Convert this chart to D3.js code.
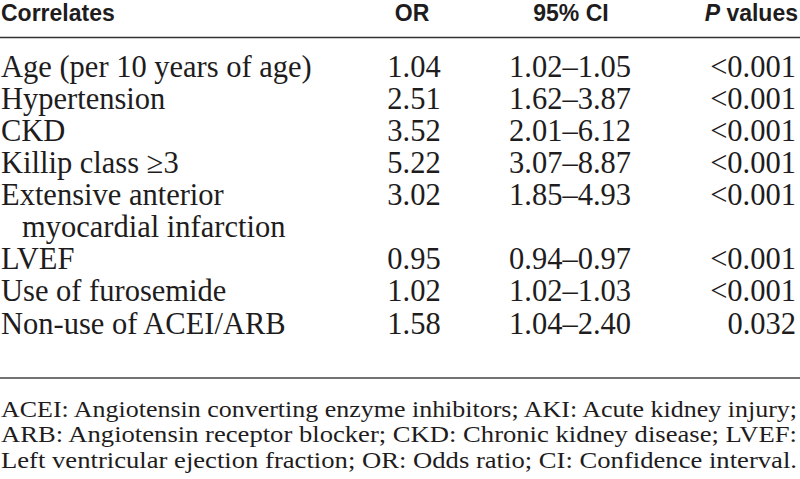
<!DOCTYPE html>
<html>
<head>
<meta charset="utf-8">
<script src="https://cdn.jsdelivr.net/npm/d3@7"></script>
<style>
  html, body { margin: 0; padding: 0; background: #ffffff; }
  svg { display: block; }
</style>
</head>
<body>
<svg id="chart" width="800" height="479"></svg>
<script>
// ---- Data ----
const headers = ["Correlates", "OR", "95% CI", "P values"];
const correlates = [
  ["Age (per 10 years of age)"],
  ["Hypertension"],
  ["CKD"],
  ["Killip class \u22653"],
  ["Extensive anterior", "myocardial infarction"],
  ["LVEF"],
  ["Use of furosemide"],
  ["Non-use of ACEI/ARB"]
];
const oddsRatios = [1.04, 2.51, 3.52, 5.22, 3.02, 0.95, 1.02, 1.58];
const ciLower = [1.02, 1.62, 2.01, 3.07, 1.85, 0.94, 1.02, 1.04];
const ciUpper = [1.05, 3.87, 6.12, 8.87, 4.93, 0.97, 1.03, 2.40];
const pValues = ["<0.001", "<0.001", "<0.001", "<0.001", "<0.001", "<0.001", "<0.001", "0.032"];
const footnotes = [
  "ACEI: Angiotensin converting enzyme inhibitors; AKI: Acute kidney injury;",
  "ARB: Angiotensin receptor blocker; CKD: Chronic kidney disease; LVEF:",
  "Left ventricular ejection fraction; OR: Odds ratio; CI: Confidence interval."
];

// ---- Layout ----
const W = 800, H = 479;
const svg = d3.select("#chart");
const ink = "#1e1c1d";
const serif = "'Liberation Serif', 'Times New Roman', serif";
const sans = "'Liberation Sans', Arial, sans-serif";

// line slots: each row takes as many slots as label lines
const slots = [];
let s = 0;
correlates.forEach((lines, i) => { slots.push(s); s += lines.length; });
const totalSlots = s; // 9

const y = d3.scaleLinear().domain([0, totalSlots - 1]).range([76.5, 333.5]);
const x = d3.scaleOrdinal().domain(["label", "or", "ci", "p"]).range([1, 414, 570, 796]);

// header
const hy = 21;
const hdr = svg.append("g").attr("font-family", sans).attr("font-weight", "bold")
  .attr("font-size", 23).attr("fill", ink);
hdr.append("text").attr("x", x("label")).attr("y", hy).text(headers[0]);
hdr.append("text").attr("x", x("or") - 2).attr("y", hy).attr("text-anchor", "middle").text(headers[1]);
hdr.append("text").attr("x", x("ci") + 1).attr("y", hy).attr("text-anchor", "middle").text(headers[2]);
const pt = hdr.append("text").attr("x", x("p") + 2).attr("y", hy).attr("text-anchor", "end");
pt.append("tspan").attr("font-style", "italic").text(headers[3].split(" ")[0]);
pt.append("tspan").text(" " + headers[3].split(" ").slice(1).join(" "));

// rules
svg.append("line").attr("x1", 0).attr("x2", W).attr("y1", 37.5).attr("y2", 37.5)
  .attr("stroke", "#333").attr("stroke-width", 1.6);
svg.append("line").attr("x1", 0).attr("x2", W).attr("y1", 378).attr("y2", 378)
  .attr("stroke", "#444").attr("stroke-width", 1.6);

// body rows
const body = svg.append("g").attr("font-family", serif).attr("font-size", 30.5).attr("fill", ink);
const fmt = d3.format(".2f");
const rows = body.selectAll("g.row").data(correlates.map((lines, i) => ({
  lines, or: oddsRatios[i], lo: ciLower[i], hi: ciUpper[i], p: pValues[i], slot: slots[i]
}))).join("g").attr("class", "row");

rows.each(function(d) {
  const g = d3.select(this);
  d.lines.forEach((t, k) => {
    g.append("text").attr("x", x("label") + (k > 0 ? 21 : 0)).attr("y", y(d.slot + k)).text(t);
  });
  g.append("text").attr("x", x("or")).attr("y", y(d.slot)).attr("text-anchor", "middle").text(fmt(d.or));
  g.append("text").attr("x", x("ci")).attr("y", y(d.slot)).attr("text-anchor", "middle")
    .text(fmt(d.lo) + "\u2013" + fmt(d.hi));
  g.append("text").attr("x", x("p")).attr("y", y(d.slot)).attr("text-anchor", "end").text(d.p);
});

// footnotes
const fy = d3.scaleLinear().domain([0, 2]).range([416.5, 467.5]);
svg.append("g").attr("font-family", serif).attr("font-size", 22.5).attr("fill", ink)
  .selectAll("text").data(footnotes).join("text")
  .attr("x", 1).attr("y", (d, i) => fy(i))
  .attr("textLength", 796).attr("lengthAdjust", "spacingAndGlyphs")
  .text(d => d);
</script>
</body>
</html>
